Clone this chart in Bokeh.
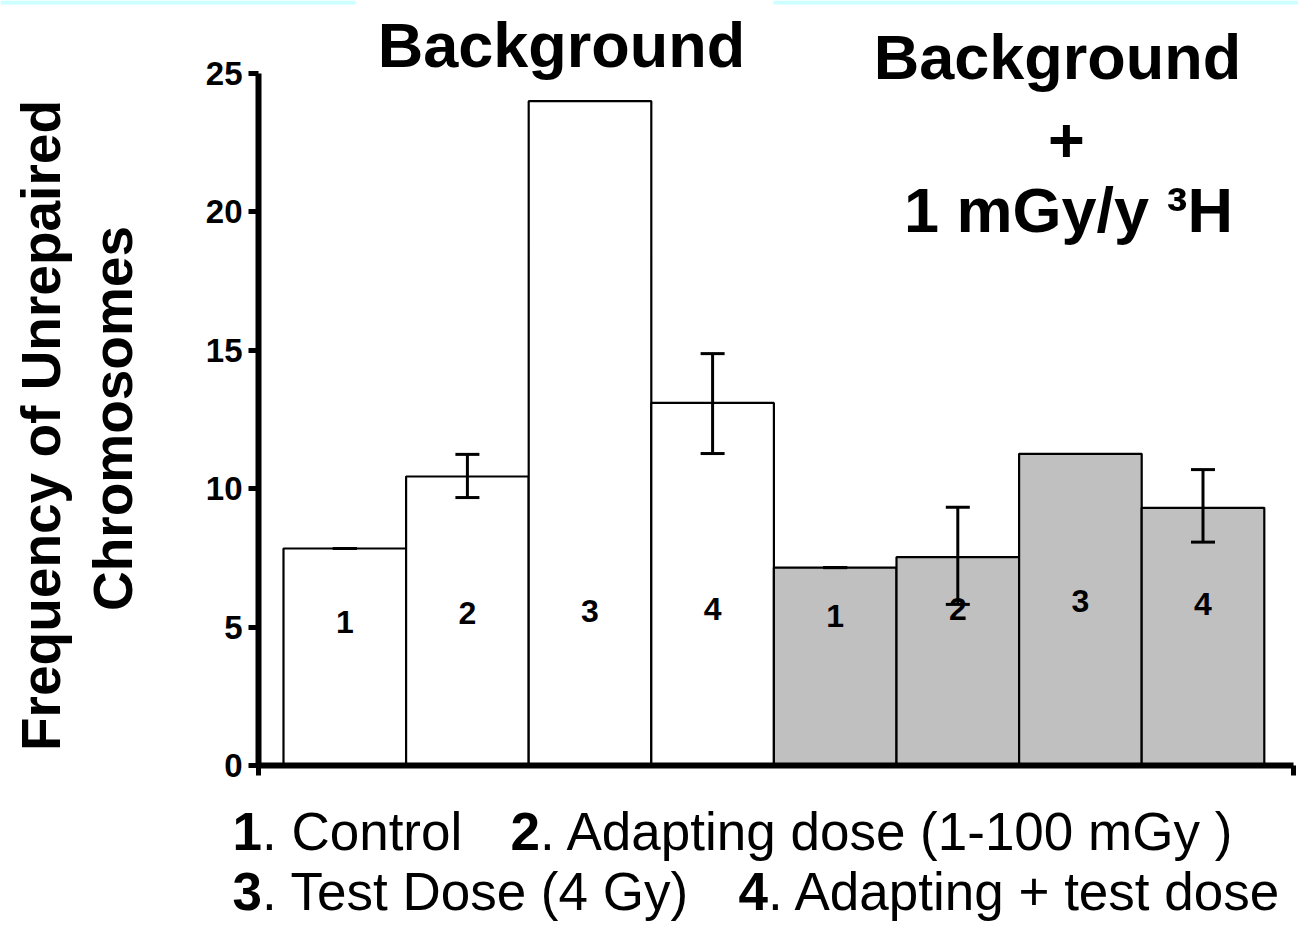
from bokeh.plotting import figure
from bokeh.models import (Range1d, FixedTicker, Label, Whisker, TeeHead, ColumnDataSource,
                          BoxAnnotation, LinearAxis)
from bokeh.core.properties import value
from bokeh.embed import file_html
from bokeh.resources import INLINE

# ---------------- data ----------------
bar_numbers = ["1", "2", "3", "4", "1", "2", "3", "4"]
bar_positions = [1, 2, 3, 4, 5, 6, 7, 8]
frequency = [7.84, 10.44, 24.0, 13.1, 7.15, 7.53, 11.26, 9.31]
bar_colors = ["#ffffff"] * 4 + ["#c0c0c0"] * 4

err_positions = [1, 2, 4, 5, 6, 8]
err_upper = [7.84, 11.24, 14.88, 7.15, 9.33, 10.69]
err_lower = [7.84, 9.68, 11.27, 7.15, 5.82, 8.07]

number_label_y = [4.77, 5.09, 5.17, 5.24, 4.99, 5.24, 5.53, 5.42]

y_ticks = [0, 5, 10, 15, 20, 25]
y_label_lines = ["Frequency of Unrepaired", "Chromosomes"]
group_titles = ["Background", "Background", "+", "1 mGy/y \u00b3H"]
legend_bold = ["1", "2", "3", "4"]
legend_text = [". Control", ". Adapting dose (1-100 mGy )", ". Test Dose (4 Gy)", ". Adapting + test dose"]

FONT = "Liberation Sans"
BASE_SHIFT = 0.355  # em correction so that text baselines land where intended

# ---------------- page geometry (pixels) ----------------
W, H = 1298, 943
AXIS_L, AXIS_R = 258, 1293      # x-axis line extent
BAR1_LEFT = 283
PX_PER_X = 122.6
Y0_PX, Y25_PX = 765, 73
PX_PER_Y = (Y0_PX - Y25_PX) / 25.0


def px2x(px):
    return 0.5 + (px - BAR1_LEFT) / PX_PER_X


def py2y(py):
    return (Y0_PX - py) / PX_PER_Y


p = figure(width=W, height=H, output_backend="svg", toolbar_location=None,
           x_range=Range1d(px2x(0), px2x(W)), y_range=Range1d(py2y(H), py2y(0)),
           x_axis_location=None, y_axis_location=None)
p.min_border = 0
p.min_border_left = p.min_border_right = p.min_border_top = p.min_border_bottom = 0
p.outline_line_color = None
p.grid.visible = False
p.background_fill_color = "white"
p.border_fill_color = "white"

# thin light-cyan strips at the very top of the slide
for l, r in [(0, 355), (773, W)]:
    p.add_layout(BoxAnnotation(left=px2x(l), right=px2x(r), top=py2y(0), bottom=py2y(4),
                               fill_color="#ccffff", fill_alpha=1.0, line_color=None))

NUM_FS = 32
label_y_draw = [v + BASE_SHIFT * NUM_FS / PX_PER_Y for v in number_label_y]
src = ColumnDataSource(dict(x=bar_positions, top=frequency, color=bar_colors,
                            lab=bar_numbers, ly=label_y_draw))
p.vbar(x="x", top="top", width=1.0, bottom=0, fill_color="color",
       line_color="black", line_width=2.2, source=src)

esrc = ColumnDataSource(dict(base=err_positions, upper=err_upper, lower=err_lower))
wh = Whisker(base="base", upper="upper", lower="lower", source=esrc,
             line_color="black", line_width=3, level="overlay",
             upper_head=TeeHead(size=24, line_width=3, line_color="black"),
             lower_head=TeeHead(size=24, line_width=3, line_color="black"))
p.add_layout(wh)

p.text(x="x", y="ly", text="lab", source=src, text_font=value(FONT),
       text_font_style="bold", text_font_size=f"{NUM_FS}px", text_align="center",
       text_baseline="alphabetic", text_color="black")

# axes drawn at fixed data locations
yax = LinearAxis(fixed_location=px2x(AXIS_L), bounds=(0, 25), ticker=FixedTicker(ticks=y_ticks),
                 axis_line_width=6, axis_line_color="black",
                 major_tick_line_width=5, major_tick_line_color="black",
                 major_tick_out=10, major_tick_in=0, minor_tick_line_color=None,
                 major_label_text_font=FONT, major_label_text_font_style="bold",
                 major_label_text_font_size="33px", major_label_text_color="black",
                 major_label_standoff=6)
p.add_layout(yax, "left")

xax = LinearAxis(fixed_location=0, bounds=(px2x(AXIS_L), px2x(AXIS_R)),
                 ticker=FixedTicker(ticks=[px2x(AXIS_L), px2x(AXIS_R)]),
                 axis_line_width=6, axis_line_color="black",
                 major_tick_line_width=5, major_tick_line_color="black",
                 major_tick_out=10, major_tick_in=0, minor_tick_line_color=None,
                 major_label_text_font_size="0px", major_label_text_alpha=0)
p.add_layout(xax, "below")


def add_text(txt, px, py, fs, bold=True, align="left", angle=0.0):
    if angle:
        ax, ay = px - BASE_SHIFT * fs, py
    else:
        ax, ay = px, py - BASE_SHIFT * fs
    p.add_layout(Label(x=px2x(ax), y=py2y(ay), text=txt, angle=angle,
                       text_font=FONT, text_font_style="bold" if bold else "normal",
                       text_font_size=f"{fs}px", text_align=align,
                       text_baseline="alphabetic", text_color="black"))


# y axis title (two lines, rotated)
for txt, bx, cy in zip(y_label_lines, [60, 132], [425, 418]):
    add_text(txt, bx, cy, 55, align="center", angle=1.5707963)

# group titles
for txt, cx, by in zip(group_titles, [561, 1057, 1066, 1068], [67, 79, 162, 232]):
    add_text(txt, cx, by, 63, align="center")

# bottom legend lines
bold_x = [232, 510, 232, 738]
base_y = [850, 850, 910, 910]
LEG_FS = 53
NUM_W = 0.556 * LEG_FS
for b, t, bx, by in zip(legend_bold, legend_text, bold_x, base_y):
    add_text(b, bx, by, LEG_FS, bold=True)
    add_text(t, bx + NUM_W, by, LEG_FS, bold=False)

open("out.html", "w").write(file_html(p, INLINE))
